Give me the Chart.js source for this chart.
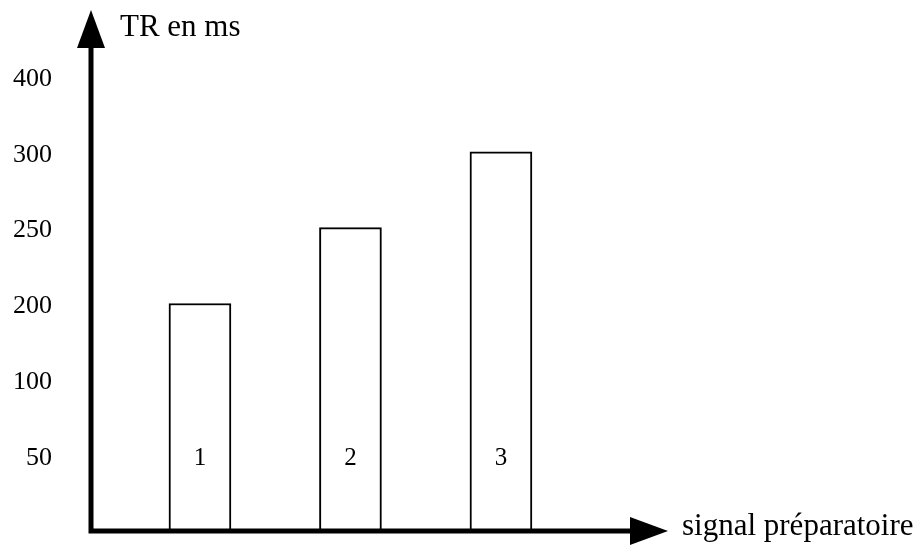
<!DOCTYPE html>
<html>
<head>
<meta charset="utf-8">
<script src="https://cdn.jsdelivr.net/npm/chart.js@4"></script>
<style>
  html, body { margin: 0; padding: 0; background: #fff; overflow: hidden; }
  canvas { display: block; }
</style>
</head>
<body>
<canvas id="chart" width="923" height="546"></canvas>
<script>
const signals = ['1', '2', '3'];
const reactionTimes = [200, 250, 300];
const yTickLabels = [50, 100, 200, 250, 300, 400];
const yTitle = 'TR en ms';
const xTitle = 'signal préparatoire';

const SERIF = '"Liberation Serif", "Times New Roman", serif';

// the y axis in the picture is not linear: ticks are evenly spaced by rank
const rankOf = (v) => yTickLabels.indexOf(v) + 1;

const axesPlugin = {
  id: 'arrowAxes',
  afterDatasetsDraw(chart) {
    const { ctx, chartArea: a, scales } = chart;
    const head = 38, half = 14;
    ctx.save();
    ctx.strokeStyle = '#000';
    ctx.fillStyle = '#000';
    ctx.lineWidth = 5;

    ctx.beginPath();
    ctx.moveTo(a.left, a.bottom + 2.5);
    ctx.lineTo(a.left, a.top + head);
    ctx.moveTo(a.left - 2.5, a.bottom);
    ctx.lineTo(a.right - head, a.bottom);
    ctx.stroke();

    ctx.beginPath();
    ctx.moveTo(a.left, a.top);
    ctx.lineTo(a.left + half, a.top + head);
    ctx.lineTo(a.left - half, a.top + head);
    ctx.closePath();
    ctx.fill();

    ctx.beginPath();
    ctx.moveTo(a.right, a.bottom);
    ctx.lineTo(a.right - head, a.bottom - half);
    ctx.lineTo(a.right - head, a.bottom + half);
    ctx.closePath();
    ctx.fill();

    ctx.font = '31px ' + SERIF;
    ctx.textBaseline = 'alphabetic';
    ctx.textAlign = 'left';
    ctx.fillText(yTitle, a.left + 29, a.top + 26);
    ctx.fillText(xTitle, a.right + 14, a.bottom + 4);

    ctx.font = '25px ' + SERIF;
    ctx.textAlign = 'center';
    ctx.textBaseline = 'middle';
    const meta = chart.getDatasetMeta(0);
    const labelY = scales.y.getPixelForValue(1) + 3;
    meta.data.forEach((bar, i) => ctx.fillText(signals[i], bar.x, labelY));
    ctx.restore();
  }
};

new Chart(document.getElementById('chart'), {
  type: 'bar',
  data: {
    datasets: [{
      data: signals.map((s, i) => ({ x: i + 1, y: rankOf(reactionTimes[i]) })),
      backgroundColor: '#fff',
      borderColor: '#000',
      borderWidth: 2,
      borderSkipped: false,
      barThickness: 62,
    }],
  },
  options: {
    responsive: false,
    animation: false,
    layout: { padding: { top: 10, right: 255, bottom: 15, left: 0 } },
    plugins: { legend: { display: false }, tooltip: { enabled: false } },
    scales: {
      x: {
        type: 'linear',
        display: false,
        offset: false,
        min: 0.276,
        max: 4.11,
      },
      y: {
        min: 0,
        max: 6.87,
        grid: { display: false, drawTicks: false },
        border: { display: false },
        afterBuildTicks: (scale) => {
          scale.ticks = yTickLabels.map((v, i) => ({ value: i + 1 }));
        },
        afterFit: (scale) => {
          scale.width = 91;
          scale.paddingTop = 0;
          scale.paddingBottom = 0;
        },
        ticks: {
          padding: 39,
          labelOffset: 3,
          color: '#000',
          font: { family: SERIF, size: 26 },
          callback: (value, index) => yTickLabels[index],
        },
      },
    },
  },
  plugins: [axesPlugin],
});
</script>
</body>
</html>
